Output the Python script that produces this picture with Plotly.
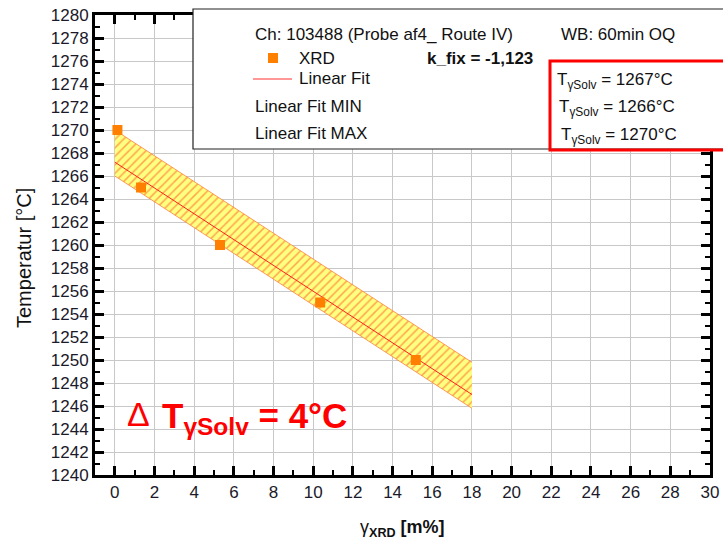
import plotly.graph_objects as go

# ---- data ----
xrd_x = [0.13, 1.32, 5.3, 10.35, 15.17]
xrd_y = [1270, 1265, 1260, 1255, 1250]
fit_x = [0, 18]
fit_y = [1267.2, 1247.0]
fit_min_y = [1266.0, 1245.8]
fit_max_y = [1270.0, 1249.8]
x_ticks = list(range(0, 31, 2))
y_ticks = list(range(1240, 1281, 2))

FONT = "Arial, Liberation Sans, sans-serif"
L, R, T, B = 95, 710, 15, 475  # screen pixels of plot area
W, H = R - L, B - T
FIG_W, FIG_H = 723, 545
def px(x):
    return (x - L) / W
def py(y):
    return (B - y) / H

fig = go.Figure()
# band between min and max
fig.add_trace(go.Scatter(x=fit_x, y=fit_min_y, mode="lines",
                         line=dict(color="#ff8040", width=0.8), showlegend=False))
fig.add_trace(go.Scatter(x=fit_x, y=fit_max_y, mode="lines", fill="tonexty",
                         fillcolor="rgba(255,255,128,1)",
                         fillpattern=dict(shape="/", fgcolor="#ff4a1a", bgcolor="#ffff80",
                                          size=6, solidity=0.25),
                         line=dict(color="#ff8040", width=0.8), showlegend=False))
fig.add_trace(go.Scatter(x=fit_x, y=fit_y, mode="lines",
                         line=dict(color="#ff2020", width=1), showlegend=False))
fig.add_trace(go.Scatter(x=xrd_x, y=xrd_y, mode="markers",
                         marker=dict(symbol="square", size=10, color="#ff8000"),
                         showlegend=False))

shapes = []
# legend box
shapes.append(dict(type="rect", xref="paper", yref="paper",
                   x0=px(193), x1=px(740), y0=py(149), y1=py(9),
                   fillcolor="white", line=dict(color="#222", width=1.2), layer="above"))
# red box
shapes.append(dict(type="rect", xref="paper", yref="paper",
                   x0=px(550), x1=px(740), y0=py(150), y1=py(61),
                   fillcolor="rgba(0,0,0,0)", line=dict(color="#ff0000", width=3), layer="above"))
# legend marker
shapes.append(dict(type="rect", xref="paper", yref="paper",
                   x0=px(268), x1=px(278), y0=py(63), y1=py(53),
                   fillcolor="#ff8000", line=dict(width=0), layer="above"))
# legend line
shapes.append(dict(type="line", xref="paper", yref="paper",
                   x0=px(253), x1=px(292), y0=py(79), y1=py(79),
                   line=dict(color="#ff3030", width=1), layer="above"))
fig.update_layout(shapes=shapes)

def ann(x, y, text, size=17, color="#111", anchor="left", angle=0):
    fig.add_annotation(xref="paper", yref="paper", x=px(x), y=py(y), text=text,
                       showarrow=False, xanchor=anchor, yanchor="middle", textangle=angle,
                       font=dict(family=FONT, size=size, color=color))

ann(253, 35, "Ch: 103488 (Probe af4_ Route IV)")
ann(559, 35, "WB: 60min OQ")
ann(297, 58, "XRD")
ann(425, 58, "<b>k_fix = -1,123</b>")
ann(297, 79, "Linear Fit")
ann(253, 107, "Linear Fit MIN")
ann(253, 134, "Linear Fit MAX")
ann(555, 81, "T<sub>γSolv</sub> = 1267°C")
ann(557, 108, "T<sub>γSolv</sub> = 1266°C")
ann(559, 136, "T<sub>γSolv</sub> = 1270°C")
ann(125, 414, "Δ", size=34, color="#ff0000")
ann(160, 418, "<b>T<sub>γSolv</sub> = 4°C</b>", size=35, color="#ff0000")
# axis titles
ann(402, 528, "γ<sub><b>XRD</b></sub> <b>[m%]</b>", size=18, anchor="center")
ann(24, 258, "Temperatur [°C]", size=20, anchor="center", angle=-90)

axis_common = dict(showline=True, linecolor="black", linewidth=3, mirror="ticks",
                   ticks="inside", ticklen=9, tickwidth=2.5, tickcolor="black",
                   showgrid=True, gridcolor="#c8c8c8", gridwidth=1.2, zeroline=False,
                   automargin=False, ticklabeloverflow="allow",
                   tickfont=dict(family=FONT, size=17, color="#1a1a2a"))

fig.update_xaxes(range=[-1, 30], tickvals=x_ticks, ticktext=[str(v) for v in x_ticks],
                 minor=dict(dtick=1, tick0=0, ticks="inside", ticklen=5, tickwidth=2,
                            tickcolor="black", showgrid=False),
                 **axis_common)
fig.update_yaxes(range=[1240, 1280], tickvals=y_ticks, ticktext=[str(v) for v in y_ticks],
                 minor=dict(dtick=1, tick0=1240, ticks="inside", ticklen=5, tickwidth=2,
                            tickcolor="black", showgrid=False),
                 **axis_common)

fig.update_layout(width=FIG_W, height=FIG_H,
                  margin=dict(l=L, r=FIG_W - R, t=T, b=FIG_H - B),
                  paper_bgcolor="white", plot_bgcolor="white", showlegend=False)

fig.write_html("out.html", config={"displayModeBar": False},
               post_script="document.body.style.margin='0';document.body.style.overflow='hidden';")
